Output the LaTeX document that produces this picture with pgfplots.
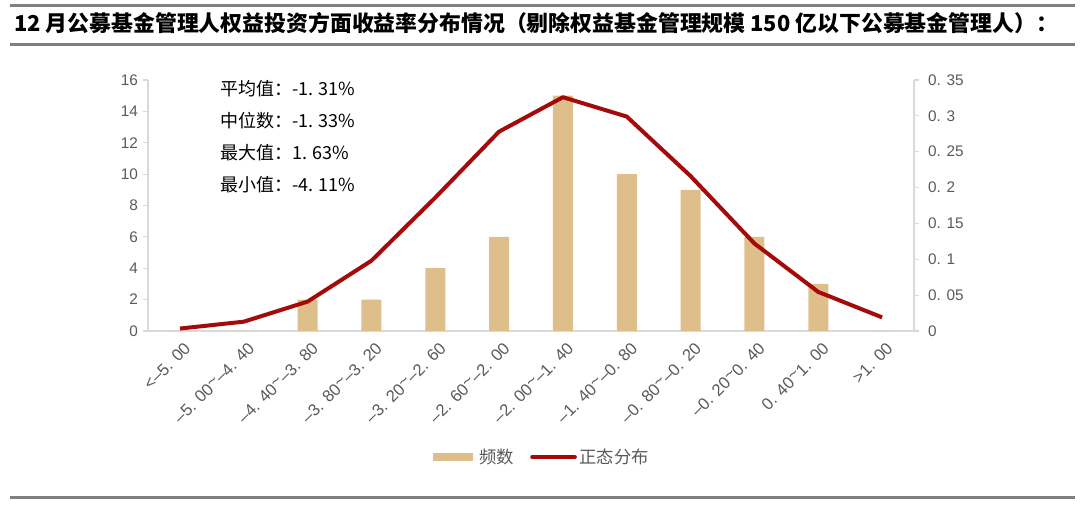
\documentclass[border=0pt]{standalone}
\usepackage{pgfplots}
\pgfplotsset{compat=1.18}
\usepackage{fontspec}
\setmainfont{Liberation Sans}
\newfontfamily\cjk{Noto Sans CJK SC}

\definecolor{bartan}{HTML}{DEBF8C}
\definecolor{linered}{HTML}{A50A0A}
\definecolor{axgray}{HTML}{D9D9D9}
\definecolor{txtgray}{HTML}{595959}
\definecolor{rulegray}{HTML}{7F7F7F}

\newcommand{\tl}{\raisebox{0.35ex}{\textasciitilde}}

\pgfplotsset{
  common/.style={
    scale only axis, width=574.5pt, height=188.25pt,
    at={(111pt,-248.25pt)}, anchor=south west,
    xmin=-0.5, xmax=11.5, ymin=0,
    axis line style={axgray, line width=0.8pt},
    tick style={axgray, line width=0.8pt},
    tick align=outside, major tick length=4pt,
    /pgf/number format/assume math mode=true,
    tick label style={font=\fontsize{11.5}{13}\selectfont, text=txtgray},
  },
}

\begin{document}
\begin{tikzpicture}
\useasboundingbox (0,0) rectangle (810pt,-378.75pt);
\draw[rulegray, line width=2.5pt] (7.5pt,-4pt) -- (806pt,-4pt);
\draw[rulegray, line width=2.5pt] (7.5pt,-33.5pt) -- (806pt,-33.5pt);
\draw[rulegray, line width=2.5pt] (7.5pt,-373pt) -- (806pt,-373pt);
\node[anchor=west, inner sep=0pt, font=\cjk\bfseries\fontsize{16.4}{18}\selectfont]
  at (10.5pt,-17.5pt) {12 月公募基金管理人权益投资方面收益率分布情况（剔除权益基金管理规模 150 亿以下公募基金管理人）：};

\begin{axis}[common,
  ymax=16, ytick={0,2,...,16},
  axis x line*=bottom, axis y line*=left,
  x axis line style={-}, y axis line style={-},
  xtick={0,...,11}, xtick style={draw=none},
  xticklabels={<–5. 00, –5. 00\tl–4. 40, –4. 40\tl–3. 80, –3. 80\tl–3. 20,
    –3. 20\tl–2. 60, –2. 60\tl–2. 00, –2. 00\tl–1. 40, –1. 40\tl–0. 80,
    –0. 80\tl–0. 20, –0. 20\tl0. 40, 0. 40\tl1. 00, >1. 00},
  xticklabel style={rotate=45, anchor=east, yshift=-9pt, xshift=2.5pt,
    font=\fontsize{12.5}{14}\selectfont},
  ybar, bar width=15pt,
]
\addplot[fill=bartan, draw=none] coordinates {
  (0,0) (1,0) (2,2) (3,2) (4,4) (5,6) (6,15) (7,10) (8,9) (9,6) (10,3) (11,0)};
\node[anchor=west, inner sep=0pt, font=\cjk\fontsize{13.5}{15}\selectfont] at (rel axis cs:0.094,0.964) {平均值：-1. 31\%};
\node[anchor=west, inner sep=0pt, font=\cjk\fontsize{13.5}{15}\selectfont] at (rel axis cs:0.094,0.837) {中位数：-1. 33\%};
\node[anchor=west, inner sep=0pt, font=\cjk\fontsize{13.5}{15}\selectfont] at (rel axis cs:0.094,0.709) {最大值：1. 63\%};
\node[anchor=west, inner sep=0pt, font=\cjk\fontsize{13.5}{15}\selectfont] at (rel axis cs:0.094,0.582) {最小值：-4. 11\%};
\end{axis}

\begin{axis}[common,
  ymax=0.35,
  axis x line=none, axis y line*=right, y axis line style={-},
  ytick={0,0.05,0.1,0.15,0.2,0.25,0.3,0.35},
  yticklabels={0,0. 05,0. 1,0. 15,0. 2,0. 25,0. 3,0. 35},
  yticklabel style={anchor=west, xshift=3pt},
  legend style={at={(0.512,-0.502)}, anchor=center, draw=none, fill=none,
    legend columns=2, font=\cjk\fontsize{13}{15}\selectfont, text=txtgray,
    /tikz/every even column/.append style={column sep=10pt}},
  legend cell align=left,
]
\addlegendimage{legend image code/.code={\draw[bartan, line width=6pt] (0pt,0pt) -- (30pt,0pt);}}
\addlegendentry{频数}
\addplot[linered, line width=3pt, line join=round, mark=none,
  legend image code/.code={\draw[linered, line width=3pt, line cap=round] (0pt,0pt) -- (32pt,0pt);}]
  coordinates {(0,0.0034) (1,0.013) (2,0.041) (3,0.098) (4,0.186) (5,0.278)
   (6,0.326) (7,0.299) (8,0.216) (9,0.122) (10,0.0545) (11,0.019)};
\addlegendentry{正态分布}
\end{axis}
\end{tikzpicture}
\end{document}
